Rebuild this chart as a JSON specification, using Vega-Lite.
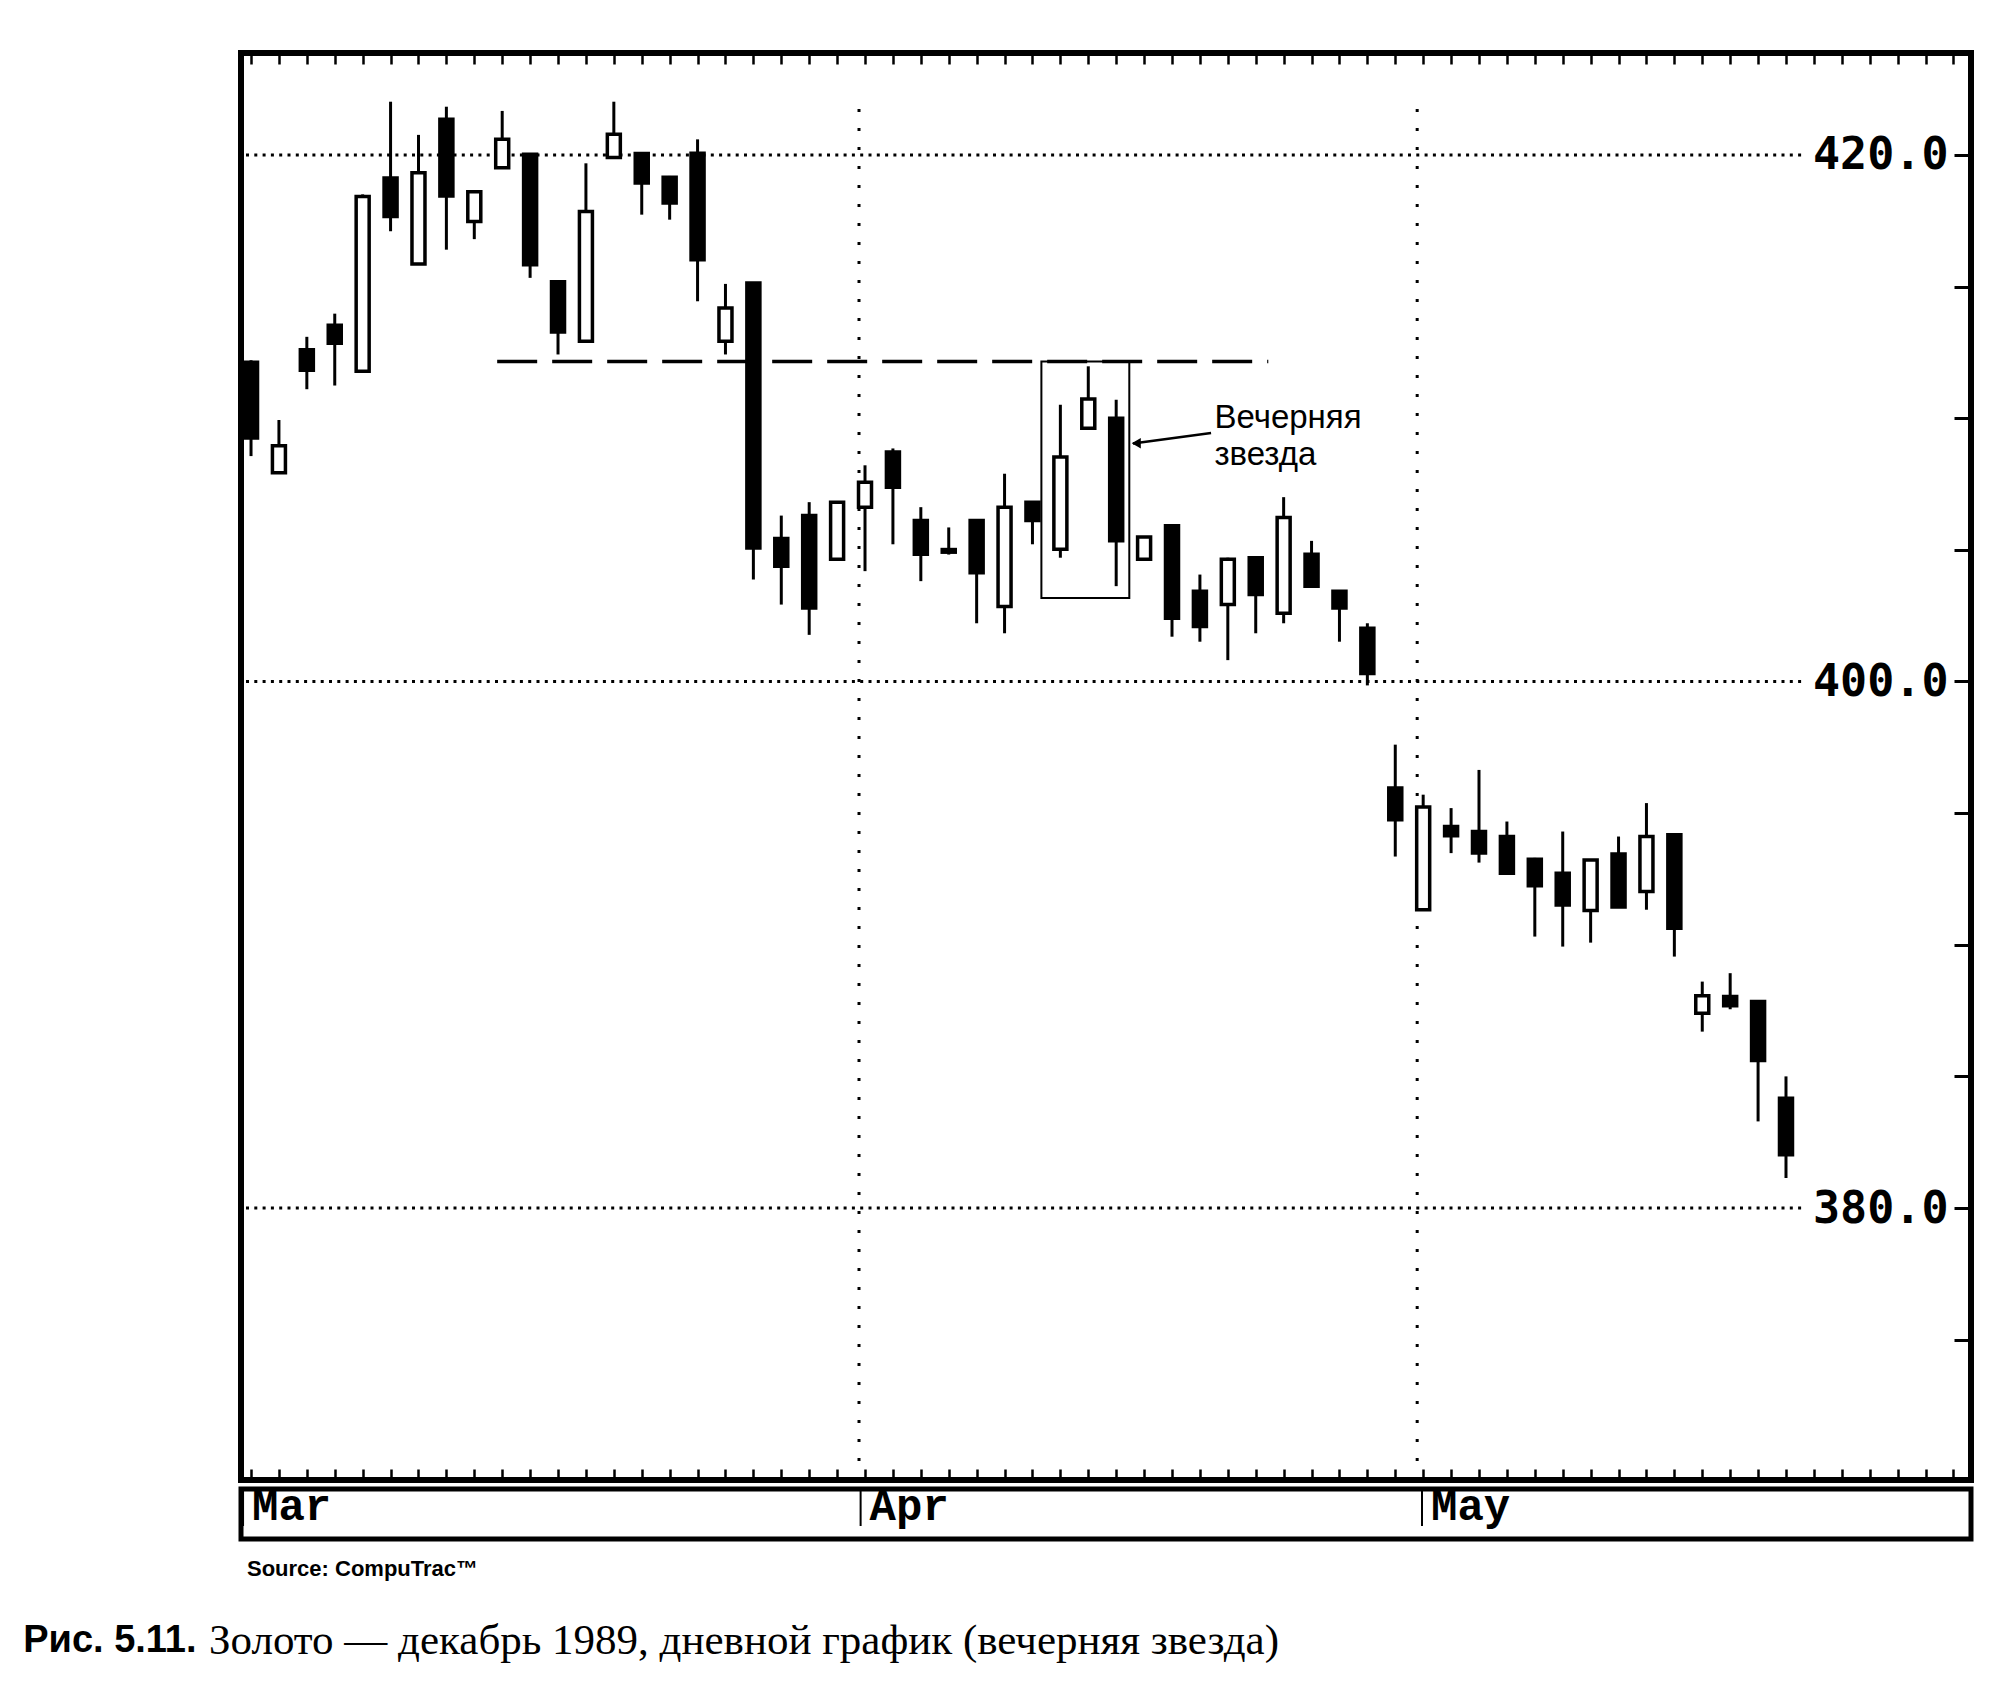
{
  "$schema": "https://vega.github.io/schema/vega-lite/v6.json",
  "background": "white",
  "padding": {"left": 23, "top": 50, "right": 10, "bottom": 10},
  "config": {
    "view": {"stroke": "black", "strokeWidth": 6},
    "axis": {"labelColor": "black", "tickColor": "black", "titleColor": "black"}
  },
  "datasets": {
    "candles": [
      {"i":0,"o":412.12,"h":412.2,"l":408.56,"c":409.25},
      {"i":1,"o":407.93,"h":409.93,"l":407.9,"c":408.95},
      {"i":2,"o":412.6,"h":413.09,"l":411.1,"c":411.82},
      {"i":3,"o":413.53,"h":413.97,"l":411.24,"c":412.85},
      {"i":4,"o":411.78,"h":418.5,"l":411.73,"c":418.42},
      {"i":5,"o":419.12,"h":422.02,"l":417.1,"c":417.66},
      {"i":6,"o":415.86,"h":420.76,"l":415.82,"c":419.32},
      {"i":7,"o":421.35,"h":421.83,"l":416.4,"c":418.44},
      {"i":8,"o":417.47,"h":418.65,"l":416.8,"c":418.6},
      {"i":9,"o":419.51,"h":421.67,"l":419.5,"c":420.59},
      {"i":10,"o":420.02,"h":420.05,"l":415.33,"c":415.83},
      {"i":11,"o":415.18,"h":415.24,"l":412.42,"c":413.27},
      {"i":12,"o":412.92,"h":419.68,"l":412.9,"c":417.85},
      {"i":13,"o":419.9,"h":422.02,"l":419.88,"c":420.78},
      {"i":14,"o":420.05,"h":420.1,"l":417.73,"c":418.93},
      {"i":15,"o":419.15,"h":419.2,"l":417.54,"c":418.17},
      {"i":16,"o":420.06,"h":420.59,"l":414.44,"c":416.02},
      {"i":17,"o":412.92,"h":415.1,"l":412.42,"c":414.18},
      {"i":18,"o":415.13,"h":415.15,"l":403.87,"c":405.07},
      {"i":19,"o":405.43,"h":406.3,"l":402.92,"c":404.38},
      {"i":20,"o":406.3,"h":406.81,"l":401.77,"c":402.79},
      {"i":21,"o":404.64,"h":406.85,"l":404.6,"c":406.81},
      {"i":22,"o":406.62,"h":408.21,"l":404.19,"c":407.57},
      {"i":23,"o":408.72,"h":408.85,"l":405.21,"c":407.38},
      {"i":24,"o":406.11,"h":406.62,"l":403.81,"c":404.83},
      {"i":25,"o":405.01,"h":405.85,"l":404.82,"c":404.91},
      {"i":26,"o":406.11,"h":406.15,"l":402.21,"c":404.13},
      {"i":27,"o":402.85,"h":407.89,"l":401.83,"c":406.62},
      {"i":28,"o":406.81,"h":406.85,"l":405.21,"c":406.11},
      {"i":29,"o":405.02,"h":410.51,"l":404.7,"c":408.53},
      {"i":30,"o":409.62,"h":411.97,"l":409.6,"c":410.73},
      {"i":31,"o":410.0,"h":410.7,"l":403.62,"c":405.34},
      {"i":32,"o":404.64,"h":405.5,"l":404.6,"c":405.49},
      {"i":33,"o":405.91,"h":405.95,"l":401.7,"c":402.4},
      {"i":34,"o":403.43,"h":404.06,"l":401.51,"c":402.09},
      {"i":35,"o":402.92,"h":404.7,"l":400.81,"c":404.64},
      {"i":36,"o":404.7,"h":404.75,"l":401.83,"c":403.3},
      {"i":37,"o":402.59,"h":407.0,"l":402.21,"c":406.23},
      {"i":38,"o":404.83,"h":405.34,"l":403.6,"c":403.62},
      {"i":39,"o":403.43,"h":403.45,"l":401.51,"c":402.79},
      {"i":40,"o":402.02,"h":402.21,"l":399.85,"c":400.3},
      {"i":41,"o":395.95,"h":397.6,"l":393.35,"c":394.75},
      {"i":42,"o":391.33,"h":395.7,"l":391.3,"c":395.23},
      {"i":43,"o":394.49,"h":395.19,"l":393.48,"c":394.14},
      {"i":44,"o":394.3,"h":396.64,"l":393.12,"c":393.48},
      {"i":45,"o":394.11,"h":394.68,"l":392.7,"c":392.72},
      {"i":46,"o":393.25,"h":393.3,"l":390.31,"c":392.24},
      {"i":47,"o":392.72,"h":394.3,"l":389.93,"c":391.51},
      {"i":48,"o":391.3,"h":393.25,"l":390.08,"c":393.22},
      {"i":49,"o":393.45,"h":394.11,"l":391.4,"c":391.43},
      {"i":50,"o":392.02,"h":395.38,"l":391.33,"c":394.11},
      {"i":51,"o":394.18,"h":394.2,"l":389.55,"c":390.63},
      {"i":52,"o":387.4,"h":388.6,"l":386.7,"c":388.06},
      {"i":53,"o":388.03,"h":388.92,"l":387.55,"c":387.68},
      {"i":54,"o":387.84,"h":387.86,"l":383.29,"c":385.6},
      {"i":55,"o":384.17,"h":385.0,"l":381.14,"c":382.02}
    ],
    "months": [
      {"month":"Mar","i":0},
      {"month":"Apr","i":22},
      {"month":"May","i":42}
    ]
  },
  "spacing": -3,
  "vconcat": [
    {
      "width": 1730,
      "height": 1427,
      "view": {"stroke": "black", "strokeWidth": 6},
      "resolve": {"axis": {"x": "independent", "y": "independent"}},
      "layer": [
        {
          "data": {"values": [{"p":420},{"p":400},{"p":380}]},
          "mark": {"type": "rule", "strokeDash": [3, 5.3], "strokeWidth": 3, "color": "black"},
          "encoding": {
            "y": {"field": "p", "type": "quantitative", "scale": {"domain": [369.67, 423.87], "nice": false, "zero": false},
              "axis": {"orient": "right", "values": [375,380,385,390,395,400,405,410,415,420],
                "tickSize": -17, "tickWidth": 3, "domain": false, "grid": false, "title": null,
                "labelExpr": "datum.value % 20 === 0 ? format(datum.value, '.1f') : ''",
                "labelFont": "DejaVu Sans Mono", "labelFontWeight": "bold", "labelFontSize": 45,
                "labelAlign": "right", "labelBaseline": "middle", "labelPadding": -6,
                "labelOverlap": false, "zindex": 1}},
            "x": {"datum": -0.18, "type": "quantitative", "scale": {"domain": [-0.18, 61.45], "nice": false, "zero": false}, "axis": null},
            "x2": {"datum": 55.6}
          }
        },
        {
          "data": {"name": "months"},
          "transform": [{"filter": "datum.i > 0"}],
          "mark": {"type": "rule", "strokeDash": [3, 16], "strokeWidth": 3, "color": "black", "xOffset": -6},
          "encoding": {
            "x": {"field": "i", "type": "quantitative", "scale": {"domain": [-0.18, 61.45], "nice": false, "zero": false}, "axis": null},
            "y": {"datum": 369.67, "type": "quantitative", "scale": {"domain": [369.67, 423.87], "nice": false, "zero": false}, "axis": null},
            "y2": {"datum": 422.2}
          }
        },
        {
          "data": {"values": [{"from": 8.82, "to": 36.45, "p": 412.15}]},
          "mark": {"type": "rule", "strokeDash": [40, 15], "strokeWidth": 3.5, "color": "black"},
          "encoding": {
            "x": {"field": "from", "type": "quantitative", "scale": {"domain": [-0.18, 61.45], "nice": false, "zero": false}, "axis": null},
            "x2": {"field": "to"},
            "y": {"field": "p", "type": "quantitative", "scale": {"domain": [369.67, 423.87], "nice": false, "zero": false}, "axis": null}
          }
        },
        {
          "data": {"values": [{"left": 28.32, "right": 31.47, "top": 412.15, "bottom": 403.17}]},
          "mark": {"type": "rect", "filled": false, "color": "black", "strokeWidth": 2},
          "encoding": {
            "x": {"field": "left", "type": "quantitative", "scale": {"domain": [-0.18, 61.45], "nice": false, "zero": false}, "axis": null},
            "x2": {"field": "right"},
            "y": {"field": "top", "type": "quantitative", "scale": {"domain": [369.67, 423.87], "nice": false, "zero": false}, "axis": null},
            "y2": {"field": "bottom"}
          }
        },
        {
          "data": {"name": "candles"},
          "mark": {"type": "rule", "strokeWidth": 3, "color": "black"},
          "encoding": {
            "x": {"field": "i", "type": "quantitative", "scale": {"domain": [-0.18, 61.45], "nice": false, "zero": false}, "axis": null},
            "y": {"field": "l", "type": "quantitative", "scale": {"domain": [369.67, 423.87], "nice": false, "zero": false}, "axis": null},
            "y2": {"field": "h"}
          }
        },
        {
          "data": {"name": "candles"},
          "mark": {"type": "bar", "orient": "vertical", "width": 13, "stroke": "black", "strokeWidth": 3.5},
          "encoding": {
            "x": {"field": "i", "type": "quantitative", "scale": {"domain": [-0.18, 61.45], "nice": false, "zero": false},
              "axis": {"orient": "bottom", "values": [0,1,2,3,4,5,6,7,8,9,10,11,12,13,14,15,16,17,18,19,20,21,22,23,24,25,26,27,28,29,30,31,32,33,34,35,36,37,38,39,40,41,42,43,44,45,46,47,48,49,50,51,52,53,54,55,56,57,58,59,60,61],
                "ticks": false, "labels": false, "domain": false, "title": null,
                "grid": true, "gridColor": "black", "gridWidth": 2.5, "gridOpacity": 1, "gridDash": [11, 1405, 11]}},
            "y": {"field": "o", "type": "quantitative", "scale": {"domain": [369.67, 423.87], "nice": false, "zero": false}, "axis": null},
            "y2": {"field": "c"},
            "fill": {"condition": {"test": "datum.c >= datum.o", "value": "white"}, "value": "black"}
          }
        },
        {
          "data": {"values": [{"x1": 34.4, "y1": 409.44, "x2": 31.6, "y2": 409.04}]},
          "mark": {"type": "rule", "strokeWidth": 2.5, "color": "black"},
          "encoding": {
            "x": {"field": "x1", "type": "quantitative", "scale": {"domain": [-0.18, 61.45], "nice": false, "zero": false}, "axis": null},
            "x2": {"field": "x2"},
            "y": {"field": "y1", "type": "quantitative", "scale": {"domain": [369.67, 423.87], "nice": false, "zero": false}, "axis": null},
            "y2": {"field": "y2"}
          }
        },
        {
          "data": {"values": [{"x": 31.72, "y": 409.05}]},
          "mark": {"type": "point", "shape": "triangle-left", "size": 110, "filled": true, "color": "black", "opacity": 1},
          "encoding": {
            "x": {"field": "x", "type": "quantitative", "scale": {"domain": [-0.18, 61.45], "nice": false, "zero": false}, "axis": null},
            "y": {"field": "y", "type": "quantitative", "scale": {"domain": [369.67, 423.87], "nice": false, "zero": false}, "axis": null}
          }
        },
        {
          "data": {"values": [{"x": 34.52, "y": 410.6, "label": "Вечерняя\nзвезда"}]},
          "mark": {"type": "text", "font": "Liberation Sans", "fontSize": 33, "lineHeight": 37, "lineBreak": "\n", "align": "left", "baseline": "top", "color": "black"},
          "encoding": {
            "x": {"field": "x", "type": "quantitative", "scale": {"domain": [-0.18, 61.45], "nice": false, "zero": false}, "axis": null},
            "y": {"field": "y", "type": "quantitative", "scale": {"domain": [369.67, 423.87], "nice": false, "zero": false}, "axis": null},
            "text": {"field": "label"}
          }
        }
      ]
    },
    {
      "width": 1730,
      "height": 50,
      "view": {"stroke": "black", "strokeWidth": 5},
      "title": {"text": "Source: CompuTrac™", "orient": "bottom", "anchor": "start", "offset": 20, "dx": 6,
        "font": "Liberation Sans", "fontWeight": "bold", "fontSize": 22, "color": "black"},
      "data": {"name": "months"},
      "layer": [
        {
          "mark": {"type": "rule", "strokeWidth": 2, "color": "black", "xOffset": -3},
          "encoding": {
            "x": {"field": "i", "type": "quantitative", "scale": {"domain": [-0.18, 61.45], "nice": false, "zero": false}, "axis": null},
            "y": {"datum": 0.26, "type": "quantitative", "scale": {"domain": [0, 1], "nice": false, "zero": false}, "axis": null},
            "y2": {"datum": 0.96}
          }
        },
        {
          "mark": {"type": "text", "font": "Liberation Mono", "fontWeight": "bold", "fontSize": 44, "align": "left", "baseline": "alphabetic", "dx": 6, "dy": 6, "color": "black"},
          "encoding": {
            "x": {"field": "i", "type": "quantitative", "scale": {"domain": [-0.18, 61.45], "nice": false, "zero": false}, "axis": null},
            "text": {"field": "month"}
          }
        }
      ]
    },
    {
      "width": 1730,
      "height": 116,
      "view": {"stroke": null},
      "layer": [
        {
          "data": {"values": [{"x": -7.94, "label": "Рис. 5.11."}]},
          "mark": {"type": "text", "font": "Liberation Sans", "fontWeight": "bold", "fontSize": 38, "align": "left", "baseline": "middle", "color": "black"},
          "encoding": {
            "x": {"field": "x", "type": "quantitative", "scale": {"domain": [-0.18, 61.45], "nice": false, "zero": false}, "axis": null},
            "text": {"field": "label"}
          }
        },
        {
          "data": {"values": [{"x": -1.32, "label": "Золото — декабрь 1989, дневной график (вечерняя звезда)"}]},
          "mark": {"type": "text", "font": "Liberation Serif", "fontSize": 43, "align": "left", "baseline": "middle", "color": "black"},
          "encoding": {
            "x": {"field": "x", "type": "quantitative", "scale": {"domain": [-0.18, 61.45], "nice": false, "zero": false}, "axis": null},
            "text": {"field": "label"}
          }
        }
      ]
    }
  ]
}
